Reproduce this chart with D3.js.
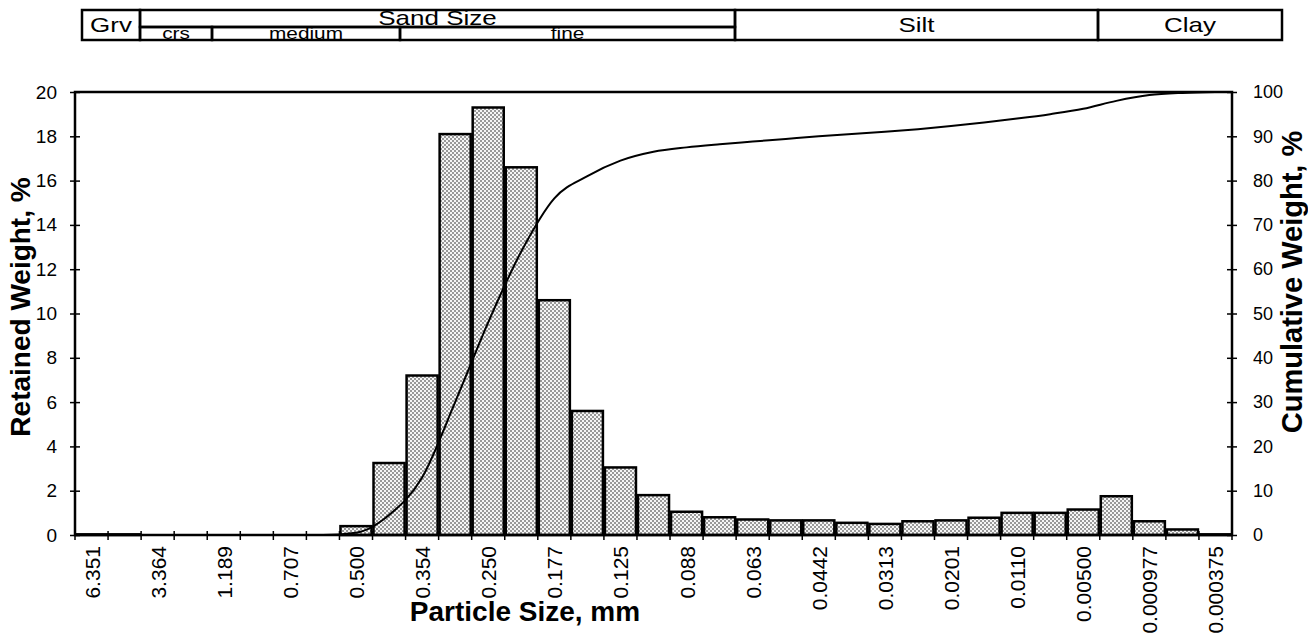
<!DOCTYPE html>
<html>
<head>
<meta charset="utf-8">
<script src="https://cdn.jsdelivr.net/npm/d3@7"></script>
<style>
  body { margin: 0; background: #fff; }
  svg { font-family: "Liberation Sans", Arial, sans-serif; }
</style>
</head>
<body>
<svg id="chart" width="1308" height="636"></svg>
<script>
let width = 1308, height = 636;

// sieve sizes shown under the axis (every other bin is labelled)
const sizeLabels = ["6.351", "3.364", "1.189", "0.707", "0.500", "0.354", "0.250", "0.177", "0.125",
    "0.088", "0.063", "0.0442", "0.0313", "0.0201", "0.0110", "0.00500", "0.000977", "0.000375"];

// retained weight per bin, %
const retained = [0.03, 0.03, 0, 0, 0, 0, 0, 0,
    0.4, 3.25, 7.2, 18.1, 19.3, 16.6, 10.6, 5.6, 3.05, 1.8,
    1.05, 0.8, 0.7, 0.66, 0.66, 0.55, 0.5, 0.62, 0.66, 0.78,
    1.0, 1.0, 1.15, 1.75, 0.62, 0.25, 0.03];

// cumulative weight per bin, %
const cumulative = [0, 0, 0, 0, 0, 0, 0, 0,
    0.5, 4.5, 13, 30, 48, 64, 76, 81, 84.5, 86.5,
    87.5, 88.2, 88.8, 89.4, 90, 90.5, 91, 91.6, 92.3, 93.1,
    94, 95, 96.2, 98, 99.3, 99.8, 100];

const leftTicks = [0, 2, 4, 6, 8, 10, 12, 14, 16, 18, 20];
const rightTicks = [0, 10, 20, 30, 40, 50, 60, 70, 80, 90, 100];

// header classification table: [label, x0, x1, row] row 0 = full height, 1 = top half, 2 = bottom half
const headerCells = [
    ["Grv", 82, 140, 0],
    ["Sand Size", 140, 735, 1],
    ["crs", 140, 212, 2],
    ["medium", 212, 400, 2],
    ["fine", 400, 735, 2],
    ["Silt", 735, 1098, 0],
    ["Clay", 1098, 1282, 0]
];

const margin = {left: 75, right: 1232, top: 92, bottom: 535};

const svg = d3.select("#chart");

// stipple fill for the bars
const defs = svg.append("defs");
const pat = defs.append("pattern")
    .attr("id", "dots")
    .attr("patternUnits", "userSpaceOnUse")
    .attr("width", 4).attr("height", 4);
pat.append("rect").attr("width", 4).attr("height", 4).attr("fill", "#f6f6f6");
pat.append("circle").attr("cx", 1).attr("cy", 1).attr("r", 0.8).attr("fill", "#222");
pat.append("circle").attr("cx", 3).attr("cy", 3).attr("r", 0.8).attr("fill", "#222");

const bins = d3.range(retained.length);

const x = d3.scaleBand()
    .domain(bins)
    .range([margin.left, margin.right])
    .padding(0);

const yLeft = d3.scaleLinear().domain([0, 20]).range([margin.bottom, margin.top]);
const yRight = d3.scaleLinear().domain([0, 100]).range([margin.bottom, margin.top]);

// bars
svg.append("g").attr("class", "bars")
    .selectAll("rect")
    .data(retained)
    .join("rect")
    .attr("x", (d, i) => x(i) + 1)
    .attr("width", x.bandwidth() - 2)
    .attr("y", d => yLeft(d))
    .attr("height", d => margin.bottom - yLeft(d))
    .attr("fill", "url(#dots)")
    .attr("stroke", "#000")
    .attr("stroke-width", 2.5);

// cumulative curve
const line = d3.line()
    .x((d, i) => x(i) + x.bandwidth() / 2)
    .y(d => yRight(d))
    .curve(d3.curveMonotoneX);

svg.append("path")
    .datum(cumulative)
    .attr("d", line)
    .attr("fill", "none")
    .attr("stroke", "#000")
    .attr("stroke-width", 2);

// plot frame
svg.append("rect")
    .attr("x", margin.left).attr("y", margin.top)
    .attr("width", margin.right - margin.left)
    .attr("height", margin.bottom - margin.top)
    .attr("fill", "none").attr("stroke", "#000").attr("stroke-width", 2.5);

// left axis
const axL = svg.append("g")
    .attr("transform", `translate(${margin.left},0)`)
    .call(d3.axisLeft(yLeft).tickValues(leftTicks).tickSize(5).tickPadding(13));
axL.select(".domain").remove();
axL.selectAll(".tick line").attr("x2", -5).attr("x1", 5).attr("stroke-width", 1.5);
axL.selectAll("text").attr("font-size", 19).attr("fill", "#000");

// right axis
const axR = svg.append("g")
    .attr("transform", `translate(${margin.right},0)`)
    .call(d3.axisRight(yRight).tickValues(rightTicks).tickSize(5).tickPadding(16));
axR.select(".domain").remove();
axR.selectAll(".tick line").attr("x1", -5).attr("x2", 5).attr("stroke-width", 1.5);
axR.selectAll("text").attr("font-size", 18).attr("fill", "#000");

// bottom axis: ticks at bin edges, labels on even bins
const edges = d3.range(retained.length + 1).map(i => margin.left + i * x.bandwidth());
svg.append("g").selectAll("line")
    .data(edges)
    .join("line")
    .attr("x1", d => d).attr("x2", d => d)
    .attr("y1", margin.bottom - 4).attr("y2", margin.bottom + 5)
    .attr("stroke", "#000").attr("stroke-width", 1.5);

svg.append("g").selectAll("text")
    .data(sizeLabels)
    .join("text")
    .attr("transform", (d, i) => `translate(${x(i * 2) + x.bandwidth() / 2 + 8},${margin.bottom + 11}) rotate(-90)`)
    .attr("text-anchor", "end")
    .attr("font-size", 21)
    .text(d => d);

// axis titles
svg.append("text")
    .attr("x", 525).attr("y", 621)
    .attr("text-anchor", "middle")
    .attr("font-size", 28).attr("font-weight", "bold")
    .text("Particle Size, mm");

svg.append("text")
    .attr("transform", "translate(30,307) rotate(-90)")
    .attr("text-anchor", "middle")
    .attr("font-size", 28).attr("font-weight", "bold")
    .text("Retained Weight, %");

svg.append("text")
    .attr("transform", "translate(1302,282) rotate(-90)")
    .attr("text-anchor", "middle")
    .attr("font-size", 29).attr("font-weight", "bold")
    .text("Cumulative Weight, %");

// header table
const hTop = 10, hMid = 27, hBot = 40;
const header = svg.append("g").attr("class", "header");
header.selectAll("rect")
    .data(headerCells)
    .join("rect")
    .attr("x", d => d[1])
    .attr("width", d => d[2] - d[1])
    .attr("y", d => d[3] === 2 ? hMid : hTop)
    .attr("height", d => d[3] === 0 ? hBot - hTop : (d[3] === 1 ? hMid - hTop : hBot - hMid))
    .attr("fill", "none").attr("stroke", "#000").attr("stroke-width", 2.5);

// header lettering is wide in the original, stretch it horizontally
header.selectAll("text")
    .data(headerCells)
    .join("text")
    .attr("transform", d => {
        const cx = (d[1] + d[2]) / 2;
        const cy = d[3] === 0 ? 32 : (d[3] === 1 ? 25 : 39);
        return `translate(${cx},${cy}) scale(1.3,1)`;
    })
    .attr("text-anchor", "middle")
    .attr("font-size", d => d[3] === 2 ? 16 : 20)
    .text(d => d[0]);
</script>
</body>
</html>
